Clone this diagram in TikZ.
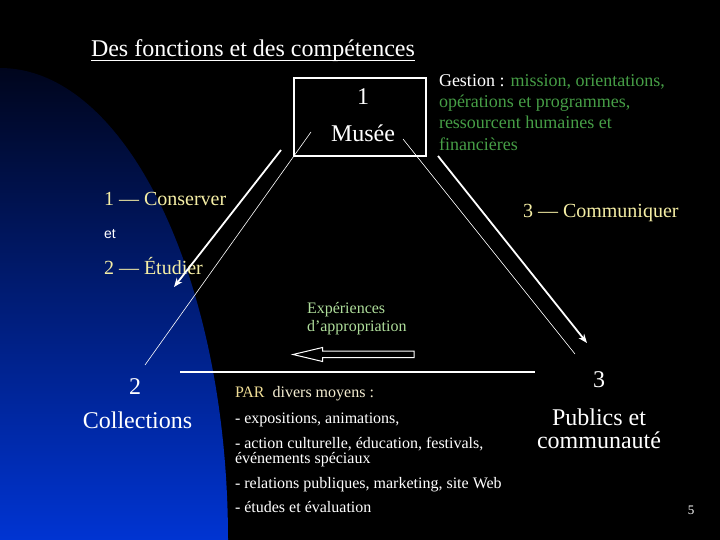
\documentclass[tikz,border=0pt]{standalone}
\usepackage{fontspec}
\setmainfont{Liberation Serif}
\newfontfamily\mysans{Liberation Sans}
\usetikzlibrary{arrows.meta}
\definecolor{gestgreen}{RGB}{70,158,70}
\definecolor{lightgreen}{RGB}{175,222,155}
\definecolor{cream}{RGB}{245,238,165}
\definecolor{parcol}{RGB}{240,222,150}
\definecolor{palecream}{RGB}{245,238,210}
\definecolor{bluetop}{RGB}{0,5,28}
\definecolor{bluemid}{RGB}{10,44,175}
\definecolor{bluebot}{RGB}{0,52,210}
\newcommand\myfs[2]{\fontsize{#1}{#2}\selectfont}
\begin{document}
\begin{tikzpicture}[x=1pt,y=-1pt,
  txt/.style={inner sep=0pt, outer sep=0pt, text=white, anchor=base west},
  bigtxt/.style={txt, anchor=base, font=\myfs{24}{24}},
  gest/.style={txt, text=gestgreen, font=\myfs{18}{21}},
  verb/.style={txt, text=cream, font=\myfs{20}{22}},
  listtxt/.style={txt, font=\myfs{16}{16}},
  thickarrow/.style={white, line width=1.8pt, -{Stealth[length=9pt,width=7pt]}},
  thinline/.style={white, line width=0.6pt},
  museebox/.style={draw=white, line width=2pt, minimum width=132pt, minimum height=78pt, inner sep=0pt}]
\useasboundingbox (0,0) rectangle (720,540);
\fill[black] (0,0) rectangle (720,540);
% blue background shape
\begin{scope}
  \clip (0,540) ellipse [x radius=228pt, y radius=472pt];
  \shade[top color=bluetop, middle color=bluemid, bottom color=bluebot] (0,66) rectangle (240,540);
\end{scope}
% title
\node[txt, font=\myfs{24}{24}] (title) at (91,57) {Des fonctions et des compétences};
\draw[white, line width=1.2pt] ([yshift=-3.5pt]title.base west) -- ([yshift=-3.5pt]title.base east);
% museum box
\node[museebox] (box) at (360,117) {};
\node[bigtxt] (n1) at (363,105) {1};
\node[bigtxt] (musee) at (363,142) {Musée};
% gestion text
\node[gest] (g1) at (439,87) {{\color{white}Gestion :} mission, orientations,};
\node[gest] (g2) at (439,108) {opérations et programmes,};
\node[gest] (g3) at (439,129) {ressourcent humaines et};
\node[gest] (g4) at (439,151) {financières};
% left labels
\node[verb] (conserver) at (104,206) {1 — Conserver};
\node[txt, font=\mysans\myfs{14}{14}] (et) at (104,238) {et};
\node[verb] (etudier) at (104,274) {2 — Étudier};
% right label
\node[verb] (communiquer) at (523,218) {3 — Communiquer};
% connectors
\coordinate (tlA) at (311,132);
\coordinate (tlB) at (145,365);
\coordinate (trA) at (403,139);
\coordinate (trB) at (575,354);
\coordinate (alA) at (281,150);
\coordinate (alB) at (174,287);
\coordinate (arA) at (438,156);
\coordinate (arB) at (587,343);
\draw[thinline] (tlA) -- (tlB);
\draw[thinline] (trA) -- (trB);
\draw[thickarrow] (alA) -- (alB);
\draw[thickarrow] (arA) -- (arB);
% experiences
\node[txt, text=lightgreen, font=\myfs{16}{18}] (exp1) at (307,313) {Expériences};
\node[txt, text=lightgreen, font=\myfs{16}{18}] (exp2) at (307,331) {d’appropriation};
\draw[white, line width=1pt] (293,354.5) -- (322.5,347.5) -- (322.5,351) -- (414,351) -- (414,357.5) -- (322.5,357.5) -- (322.5,361.5) -- cycle;
% horizontal line
\coordinate (hA) at (180,372);
\coordinate (hB) at (535,372);
\draw[white, line width=1.2pt] (hA) -- (hB);
% collections
\node[bigtxt] (n2) at (135,394) {2};
\node[bigtxt] (coll) at (137.5,428) {Collections};
% publics
\node[bigtxt] (n3) at (599,387) {3};
\node[bigtxt] (pub1) at (599,425) {Publics et};
\node[bigtxt] (pub2) at (599,448) {communauté};
% list
\node[listtxt] (par) at (235,397) {{\color{parcol}PAR}\ \ {\color{palecream}divers moyens :}};
\node[listtxt] (l1) at (235,423) {- expositions, animations,};
\node[listtxt] (l2) at (235,448) {- action culturelle, éducation, festivals,};
\node[listtxt] (l2b) at (235,463) {événements spéciaux};
\node[listtxt] (l3) at (235,488) {- relations publiques, marketing, site Web};
\node[listtxt] (l4) at (235,512) {- études et évaluation};
% page number
\node[txt, anchor=base, font=\myfs{13}{13}] (pnum) at (691,514) {5};
\end{tikzpicture}
\end{document}
